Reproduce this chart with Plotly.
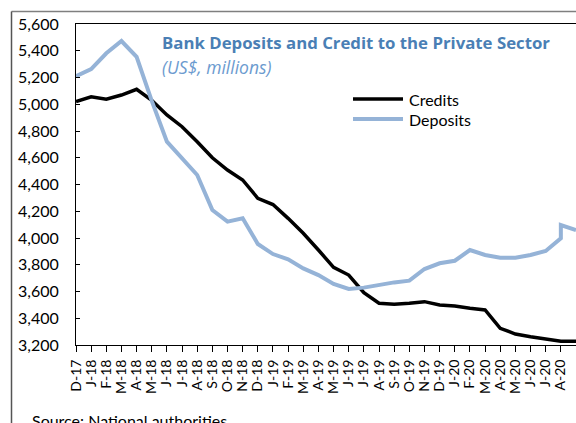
import plotly.graph_objects as go

# ---- data ----
month_labels = ["D-17", "J-18", "F-18", "M-18", "A-18", "M-18", "J-18", "J-18", "A-18", "S-18",
                "O-18", "N-18", "D-18", "J-19", "F-19", "M-19", "A-19", "M-19", "J-19", "J-19",
                "A-19", "S-19", "O-19", "N-19", "D-19", "J-20", "F-20", "M-20", "A-20", "M-20",
                "J-20", "J-20", "A-20", "S-20"]
month_index = list(range(len(month_labels)))

credits = [5020, 5056, 5037, 5069, 5112, 5030, 4920, 4832, 4720, 4600,
           4508, 4434, 4297, 4250, 4147, 4035, 3910, 3781, 3723, 3591,
           3512, 3505, 3512, 3524, 3499, 3492, 3474, 3462, 3325, 3282,
           3262, 3243, 3228, 3228]

# deposits: A-20 has two readings (before / after the jump)
deposits_period = list(range(33)) + [32, 33]
deposits = [5210, 5263, 5381, 5473, 5355, 5025, 4720, 4596, 4471, 4209,
            4122, 4147, 3955, 3880, 3840, 3773, 3723, 3656, 3619, 3629,
            3649, 3668, 3681, 3768, 3811, 3830, 3910, 3873, 3853, 3853,
            3873, 3903, 3998, 4097, 4060]

y_ticks = list(range(3200, 5601, 200))

FONT = "Lato"
TFONT = "Open Sans"
CRED_COLOR = "#000000"
DEP_COLOR = "#95b3d7"

fig = go.Figure()
fig.add_trace(go.Scatter(x=month_index, y=credits, mode="lines", name="Credits",
                         line=dict(color=CRED_COLOR, width=3.5), showlegend=False))
fig.add_trace(go.Scatter(x=deposits_period, y=deposits, mode="lines", name="Deposits",
                         line=dict(color=DEP_COLOR, width=4), showlegend=False))

L, R, T, B = 76, 0, 24, 78
W, H = 576, 423
pw, ph = W - L - R, H - T - B


def px(x):
    return (x - L) / pw


def py(y):
    return (H - B - y) / ph


fig.update_layout(
    width=W, height=H,
    margin=dict(l=L, r=R, t=T, b=B),
    paper_bgcolor="white", plot_bgcolor="white",
    font=dict(family=FONT, color="#000000"),
)

fig.update_xaxes(
    range=[0, 33], tickvals=month_index, ticktext=month_labels,
    tickangle=-90, tickfont=dict(size=14, family=FONT, color="#000"),
    ticks="outside", ticklen=6, tickcolor="#000", tickwidth=1,
    showline=True, linecolor="#000", linewidth=1, mirror=True,
    showgrid=False, zeroline=False, ticklabelstandoff=2,
)
fig.update_yaxes(
    range=[3200, 5600], tickvals=y_ticks, tickformat=",",
    tickfont=dict(size=16, family=FONT, color="#000"),
    ticks="inside", ticklen=4, tickcolor="#000", tickwidth=1,
    showline=True, linecolor="#000", linewidth=1, mirror=False,
    showgrid=False, zeroline=False, ticklabelstandoff=13,
)

shapes = [
    # outer frame (top and left)
    dict(type="line", xref="paper", yref="paper", x0=px(11.5), x1=px(600), y0=py(11.5), y1=py(11.5),
         line=dict(color="#7f7f7f", width=1.5)),
    dict(type="line", xref="paper", yref="paper", x0=px(11.5), x1=px(11.5), y0=py(11.5), y1=py(440),
         line=dict(color="#555555", width=1.5)),
    # legend keys
    dict(type="line", xref="paper", yref="paper", x0=px(353), x1=px(403), y0=py(99), y1=py(99),
         line=dict(color=CRED_COLOR, width=3.5)),
    dict(type="line", xref="paper", yref="paper", x0=px(353), x1=px(403), y0=py(119), y1=py(119),
         line=dict(color=DEP_COLOR, width=4)),
]

annotations = [
    dict(text="<b>Bank Deposits and Credit to the Private Sector</b>", xref="paper", yref="paper",
         x=px(160), y=py(42), xanchor="left", yanchor="middle", showarrow=False,
         font=dict(size=16.8, color="#4a7fb5", family=TFONT)),
    dict(text="<i>(US$, millions)</i>", xref="paper", yref="paper",
         x=px(160), y=py(67), xanchor="left", yanchor="middle", showarrow=False,
         font=dict(size=17.5, color="#6c9bcf", family=TFONT)),
    dict(text="Credits", xref="paper", yref="paper", x=px(407), y=py(99),
         xanchor="left", yanchor="middle", showarrow=False,
         font=dict(size=16, color="#000", family=FONT)),
    dict(text="Deposits", xref="paper", yref="paper", x=px(407), y=py(119),
         xanchor="left", yanchor="middle", showarrow=False,
         font=dict(size=16, color="#000", family=FONT)),
    dict(text="Source: National authorities", xref="paper", yref="paper", x=px(30), y=py(409),
         xanchor="left", yanchor="top", showarrow=False,
         font=dict(size=16, color="#000", family=FONT)),
]

fig.update_layout(shapes=shapes, annotations=annotations)
fig.write_html("out.html")
